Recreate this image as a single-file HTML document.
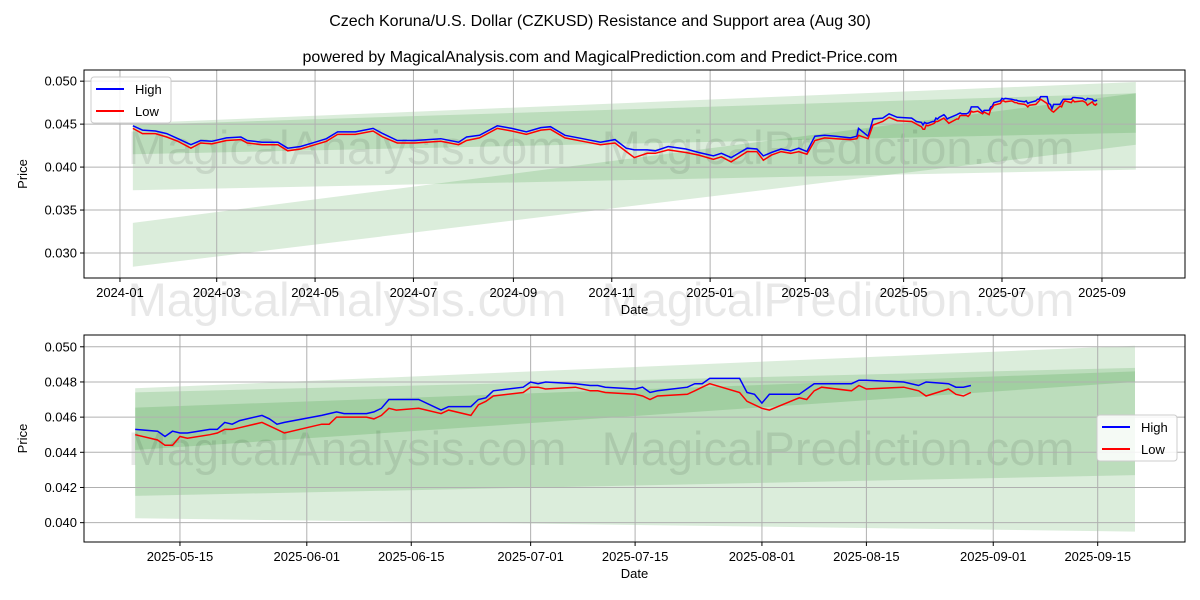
<!DOCTYPE html>
<html><head><meta charset="utf-8"><style>
body{margin:0;background:#fff;}
svg{display:block;font-family:"Liberation Sans","DejaVu Sans",sans-serif;}
</style></head><body>
<svg id="chart" width="1200" height="600" viewBox="0 0 1200 600" xmlns="http://www.w3.org/2000/svg">
<text x="600" y="26" text-anchor="middle" font-size="16">Czech Koruna/U.S. Dollar (CZKUSD) Resistance and Support area (Aug 30)</text>
<text x="600" y="62" text-anchor="middle" font-size="16">powered by MagicalAnalysis.com and MagicalPrediction.com and Predict-Price.com</text>
<g id="top"></g>
<g id="bot"></g>
</svg>
<script>
// ---- data ----
const topDates = ["2024-01-09","2024-01-15","2024-01-23","2024-01-30","2024-02-06","2024-02-14","2024-02-20","2024-02-27","2024-03-07","2024-03-16","2024-03-20","2024-03-29","2024-04-08","2024-04-14","2024-04-22","2024-05-01","2024-05-08","2024-05-15","2024-05-26","2024-06-06","2024-06-12","2024-06-21","2024-07-02","2024-07-18","2024-07-29","2024-08-03","2024-08-11","2024-08-22","2024-08-31","2024-09-09","2024-09-18","2024-09-24","2024-10-03","2024-10-14","2024-10-25","2024-11-03","2024-11-10","2024-11-15","2024-11-23","2024-11-28","2024-12-06","2024-12-17","2024-12-25","2025-01-03","2025-01-08","2025-01-14","2025-01-24","2025-01-30","2025-02-03","2025-02-08","2025-02-14","2025-02-20","2025-02-25","2025-03-02","2025-03-07","2025-03-13","2025-03-20","2025-03-29","2025-04-02","2025-04-03","2025-04-09","2025-04-12","2025-04-18","2025-04-22","2025-04-27","2025-05-06"];
const topHigh = [0.0448,0.0443,0.0442,0.0439,0.0433,0.0426,0.0431,0.0430,0.0434,0.0435,0.0431,0.0429,0.0429,0.0422,0.0424,0.0429,0.0433,0.0441,0.0441,0.0445,0.0439,0.0431,0.0431,0.0433,0.0429,0.0435,0.0437,0.0448,0.0445,0.0441,0.0446,0.0447,0.0437,0.0433,0.0429,0.0432,0.0422,0.0420,0.0420,0.0419,0.0424,0.0421,0.0417,0.0413,0.0416,0.0411,0.0422,0.0421,0.0413,0.0417,0.0421,0.0419,0.0422,0.0418,0.0436,0.0437,0.0436,0.0434,0.0436,0.0445,0.0436,0.0456,0.0457,0.0462,0.0458,0.0457];
const topLow = [0.0445,0.0439,0.0439,0.0435,0.0430,0.0422,0.0428,0.0427,0.0431,0.0432,0.0428,0.0426,0.0426,0.0419,0.0421,0.0426,0.0430,0.0438,0.0438,0.0442,0.0435,0.0428,0.0428,0.0430,0.0426,0.0431,0.0434,0.0445,0.0442,0.0438,0.0443,0.0444,0.0434,0.0430,0.0426,0.0428,0.0418,0.0411,0.0416,0.0416,0.0420,0.0417,0.0414,0.0409,0.0412,0.0406,0.0418,0.0418,0.0408,0.0414,0.0418,0.0416,0.0418,0.0415,0.0431,0.0434,0.0433,0.0432,0.0433,0.0437,0.0433,0.0449,0.0453,0.0458,0.0454,0.0453];
const botDates = ["2025-05-09","2025-05-12","2025-05-13","2025-05-14","2025-05-15","2025-05-16","2025-05-19","2025-05-20","2025-05-21","2025-05-22","2025-05-23","2025-05-26","2025-05-27","2025-05-28","2025-05-29","2025-06-03","2025-06-04","2025-06-05","2025-06-06","2025-06-09","2025-06-10","2025-06-11","2025-06-12","2025-06-13","2025-06-16","2025-06-19","2025-06-20","2025-06-23","2025-06-24","2025-06-25","2025-06-26","2025-06-30","2025-07-01","2025-07-02","2025-07-03","2025-07-07","2025-07-09","2025-07-10","2025-07-11","2025-07-15","2025-07-16","2025-07-17","2025-07-18","2025-07-22","2025-07-23","2025-07-24","2025-07-25","2025-07-29","2025-07-30","2025-07-31","2025-08-01","2025-08-02","2025-08-06","2025-08-07","2025-08-08","2025-08-09","2025-08-13","2025-08-14","2025-08-15","2025-08-20","2025-08-22","2025-08-23","2025-08-26","2025-08-27","2025-08-28","2025-08-29"];
const botHigh = [0.0453,0.0452,0.0449,0.0452,0.0451,0.0451,0.0453,0.0453,0.0457,0.0456,0.0458,0.0461,0.0459,0.0456,0.0457,0.0461,0.0462,0.0463,0.0462,0.0462,0.0463,0.0465,0.0470,0.0470,0.0470,0.0464,0.0466,0.0466,0.0470,0.0471,0.0475,0.0477,0.0480,0.0479,0.0480,0.0479,0.0478,0.0478,0.0477,0.0476,0.0477,0.0474,0.0475,0.0477,0.0479,0.0479,0.0482,0.0482,0.0474,0.0473,0.0468,0.0473,0.0473,0.0476,0.0479,0.0479,0.0479,0.0481,0.0481,0.0480,0.0478,0.0480,0.0479,0.0477,0.0477,0.0478];
const botLow = [0.0450,0.0447,0.0444,0.0444,0.0449,0.0448,0.0450,0.0451,0.0453,0.0453,0.0454,0.0457,0.0455,0.0453,0.0451,0.0456,0.0456,0.0460,0.0460,0.0460,0.0459,0.0461,0.0465,0.0464,0.0465,0.0462,0.0464,0.0461,0.0467,0.0469,0.0472,0.0474,0.0477,0.0477,0.0476,0.0477,0.0475,0.0475,0.0474,0.0473,0.0472,0.0470,0.0472,0.0473,0.0475,0.0477,0.0479,0.0474,0.0469,0.0467,0.0465,0.0464,0.0471,0.0470,0.0475,0.0477,0.0475,0.0478,0.0476,0.0477,0.0475,0.0472,0.0476,0.0473,0.0472,0.0474];
// bands: [startTop, startBottom, endTop, endBottom]
const topBandStart = "2024-01-09", topBandEnd = "2025-09-22", botBandStart = "2025-05-09", botBandEnd = "2025-09-20";
const topBands = [[0.0451,0.0373,0.0499,0.0397],[0.0449,0.0415,0.0486,0.0440],[0.0335,0.0284,0.0486,0.0426]];
const botBands = [[0.04764,0.04025,0.05006,0.03949],[0.04741,0.04152,0.0488,0.0427],[0.04654,0.04413,0.0486,0.0480]];
const topYTicks = [0.030,0.035,0.040,0.045,0.050];
const botYTicks = [0.040,0.042,0.044,0.046,0.048,0.050];
const topXTicks = ["2024-01","2024-03","2024-05","2024-07","2024-09","2024-11","2025-01","2025-03","2025-05","2025-07","2025-09"];
const botXTicks = ["2025-05-15","2025-06-01","2025-06-15","2025-07-01","2025-07-15","2025-08-01","2025-08-15","2025-09-01","2025-09-15"];

const NS="http://www.w3.org/2000/svg";
function day(s){const p=s.split("-").map(Number);return Date.UTC(p[0],p[1]-1,p[2]||1)/86400000;}
function mk(parent,tag,attrs){const e=document.createElementNS(NS,tag);for(const k in attrs)e.setAttribute(k,attrs[k]);parent.appendChild(e);return e;}

function panel(g,cfg){
  const L=84,R=1185,T=cfg.top,B=cfg.bottom;
  const d0=day(cfg.xmin)+cfg.xminOff,d1=day(cfg.xmax)+cfg.xmaxOff;
  const X=d=>L+(day(d)-d0)/(d1-d0)*(R-L);
  const Y=v=>B-(v-cfg.ymin)/(cfg.ymax-cfg.ymin)*(B-T);
  const clipId="clip"+cfg.id;
  const cp=mk(g,"clipPath",{id:clipId});mk(cp,"rect",{x:L,y:T,width:R-L,height:B-T});
  const bg=mk(g,"g",{"clip-path":`url(#${clipId})`});
  cfg.bands.forEach((b,i)=>{
    const xs=X(cfg.bandStart),xe=X(cfg.bandEnd);
    const p=mk(bg,"polygon",{points:`${xs},${Y(b[0])} ${xe},${Y(b[2])} ${xe},${Y(b[3])} ${xs},${Y(b[1])}`,fill:"rgb(0,128,0)","fill-opacity":"0.14"});
    
    
  });
  cfg.marks.forEach(m=>{
    const t=mk(g,"text",{x:m[1],y:m[2],"text-anchor":"middle","font-size":"47",fill:"rgba(0,0,0,0.09)"});
    t.textContent=m[0];
    
    
  });
  cfg.xticks.forEach(s=>{
    const x=X(s);
    mk(g,"line",{x1:x,x2:x,y1:T,y2:B,stroke:"#b0b0b0","stroke-width":"1"});
    mk(g,"line",{x1:x,x2:x,y1:B,y2:B+4,stroke:"#000"});
    const t=mk(g,"text",{x:x,y:B+19,"text-anchor":"middle","font-size":"13"});
    t.textContent=s;
    
    
  });
  cfg.yticks.forEach(v=>{
    const y=Y(v);
    mk(g,"line",{x1:L,x2:R,y1:y,y2:y,stroke:"#b0b0b0","stroke-width":"1"});
    mk(g,"line",{x1:L-4,x2:L,y1:y,y2:y,stroke:"#000"});
    const t=mk(g,"text",{x:L-7,y:y+4.5,"text-anchor":"end","font-size":"13"});
    t.textContent=v.toFixed(3);
    
    
  });
  const sg=mk(g,"g",{"clip-path":`url(#${clipId})`});
  [[cfg.high,"#0000ff","high-line"],[cfg.low,"#ff0000","low-line"]].forEach(s=>{
    const pts=cfg.dates.map((d,i)=>`${X(d).toFixed(1)},${Y(s[0][i]).toFixed(1)}`).join(" ");
    const pl=mk(sg,"polyline",{points:pts,fill:"none",stroke:s[1],"stroke-width":"1.5"});
    
    
  });
  mk(g,"rect",{x:L,y:T,width:R-L,height:B-T,fill:"none",stroke:"#000","stroke-width":"1"});
  const xl=mk(g,"text",{x:(L+R)/2,y:B+36,"text-anchor":"middle","font-size":"13"});xl.textContent="Date";
  
  
  const yl=mk(g,"text",{x:0,y:0,"text-anchor":"middle","font-size":"13",transform:`translate(27,${(T+B)/2}) rotate(-90)`});yl.textContent="Price";
  
  
  const lg=mk(g,"g",{});
  
  
  const lx=cfg.legend[0],ly=cfg.legend[1];
  mk(lg,"rect",{x:lx,y:ly,width:80,height:46,rx:3,fill:"rgba(255,255,255,0.85)",stroke:"#ccc"});
  [["High","#0000ff",0],["Low","#ff0000",22]].forEach(e=>{
    mk(lg,"line",{x1:lx+5,x2:lx+33,y1:ly+12+e[2],y2:ly+12+e[2],stroke:e[1],"stroke-width":"2"});
    const t=mk(lg,"text",{x:lx+44,y:ly+17+e[2],"font-size":"13"});t.textContent=e[0];
    
    
  });
}
panel(document.getElementById("top"),{id:"t",top:70,bottom:278,xmin:"2023-12-10",xminOff:-0.3,xmax:"2025-10-22",xmaxOff:0.5,ymin:0.02709,ymax:0.0513,
  bands:topBands,bandStart:topBandStart,bandEnd:topBandEnd,xticks:topXTicks,yticks:topYTicks,
  dates:topDates.concat(botDates),high:topHigh.concat(botHigh),low:topLow.concat(botLow),legend:[91,77],
  marks:[["MagicalAnalysis.com",347,164],["MagicalPrediction.com",838,164],["MagicalAnalysis.com",347,316],["MagicalPrediction.com",838,316]]});
panel(document.getElementById("bot"),{id:"b",top:335,bottom:542,xmin:"2025-05-02",xminOff:0.14,xmax:"2025-09-26",xmaxOff:0.7,ymin:0.0389,ymax:0.05067,
  bands:botBands,bandStart:botBandStart,bandEnd:botBandEnd,xticks:botXTicks,yticks:botYTicks,
  dates:botDates,high:botHigh,low:botLow,legend:[1097,415],
  marks:[["MagicalAnalysis.com",347,465],["MagicalPrediction.com",838,465]]});
</script>
</body></html>
